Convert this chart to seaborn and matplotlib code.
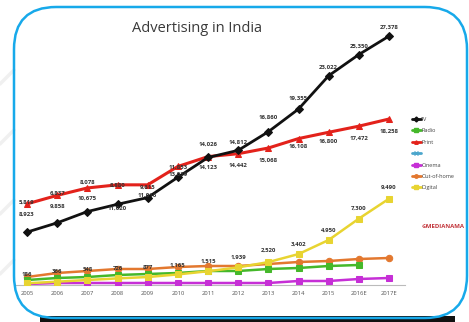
import numpy as np
import pandas as pd
import matplotlib
matplotlib.use("Agg")
import matplotlib.pyplot as plt
import seaborn as sns
from matplotlib.patches import FancyBboxPatch, Rectangle
from matplotlib.lines import Line2D

# ---------------- data ----------------
years = ["2005", "2006", "2007", "2008", "2009", "2010", "2011", "2012",
         "2013", "2014", "2015", "2016E", "2017E"]
tv = [5819, 6837, 8078, 8880, 9615, 11853, 14026, 14812, 16860, 19355, 23022, 25350, 27378]
print_ = [8923, 9858, 10675, 11020, 11016, 13039, 14123, 14442, 15068, 16108, 16800, 17472, 18258]
radio = [550, 770, 880, 1100, 1210, 1320, 1540, 1540, 1760, 1870, 2090, 2200, np.nan]
cinema = [110, 220, 220, 220, 220, 220, 220, 220, 220, 440, 440, 660, 770]
ooh = [880, 1320, 1540, 1760, 1760, 1980, 2090, 2090, 2310, 2530, 2640, 2860, 2970]
digital = [186, 366, 548, 726, 877, 1165, 1515, 1939, 2520, 3402, 4950, 7300, 9490]
tv_labels = ["5,819", "6,837", "8,078", "8,880", "9,615", "11,853", "14,026", "14,812",
             "16,860", "19,355", "23,022", "25,350", "27,378"]
print_labels = ["8,923", "9,858", "10,675", "11,020", "11,016", "13,039", "14,123", "14,442",
                "15,068", "16,108", "16,800", "17,472", "18,258"]
digital_labels = ["186", "366", "548", "726", "877", "1,165", "1,515", "1,939",
                  "2,520", "3,402", "4,950", "7,300", "9,490"]
legend_names = ["TV", "Radio", "Print", "", "Cinema", "Out-of-home", "Digital"]

# label offsets (pixels) – styling only
tv_dy = [30, 30, 29, 19, 10, 10, 13, 8, 14, 11, 8, 8, 9]
pr_dy = [-10, -11, -10, -24, -10, -8, -11, -12, -12, -8, -9, -12, -12]
dg_dy = [9, 10, 11, 10, 10, 9, 10, 10, 12, 10, 10, 10, 11]

W, H = 469, 322
fig = plt.figure(figsize=(W / 100, H / 100), dpi=100)
fig.patch.set_facecolor("white")
sns.set_style("white")
plt.rcParams['font.family'] = ['Open Sans', 'DejaVu Sans']

# faint stripes at left (background decoration)
for y0 in [70, 130, 200, 260]:
    fig.add_artist(Line2D([0 / W, 14 / W], [1 - (y0 + 14) / H, 1 - y0 / H],
                          color="#e6e6e6", lw=2.5, alpha=0.6))

# black band at bottom
fig.add_artist(Rectangle((40 / W, 0), 415 / W, 6 / H, transform=fig.transFigure,
                         facecolor="#111111", edgecolor="none", zorder=0))

ax = fig.add_axes([15 / W, 37 / H, 390 / W, 265 / H])
ax.set_facecolor("none")
x = np.arange(len(years))

series = [
    ("TV", tv, "#111111", "D", 3.6, 2.0),
    ("Radio", radio, "#45b82a", "s", 4.2, 1.8),
    ("Print", print_, "#e3221b", "^", 4.6, 2.2),
    ("Cinema", cinema, "#c62fd6", "s", 5.0, 1.8),
    ("Out-of-home", ooh, "#e3782f", "o", 4.6, 1.8),
    ("Digital", digital, "#e8d431", "s", 5.0, 1.8),
]
order_z = {"TV": 6, "Print": 5, "Digital": 4, "Out-of-home": 2, "Radio": 3, "Cinema": 3}
for name, vals, col, mk, ms, lw in series:
    df = pd.DataFrame({"x": x, "y": vals}).dropna()
    sns.lineplot(data=df, x="x", y="y", ax=ax, color=col, marker=mk, markersize=ms,
                 markeredgecolor=col, linewidth=lw, zorder=order_z[name])

lab_kw = dict(textcoords="offset pixels", ha="center", va="center",
              fontsize=4.3, color="#333333", fontweight="bold", zorder=10)
for i in range(len(years)):
    ax.annotate(tv_labels[i], (x[i], tv[i]), xytext=(0, tv_dy[i]), **lab_kw)
    ax.annotate(print_labels[i], (x[i], print_[i]), xytext=(0, pr_dy[i]), **lab_kw)
    ax.annotate(digital_labels[i], (x[i], digital[i]), xytext=(0, dg_dy[i]), **lab_kw)

ax.set_xlim(-0.398, 12.53)
ax.set_ylim(0, 29150)
ax.set_xticks(x)
ax.set_xticklabels(years)
ax.tick_params(axis="x", length=0, pad=4, labelsize=4.2, labelcolor="#555555")
ax.set_yticks([])
ax.set_xlabel("")
ax.set_ylabel("")
for s in ["top", "right", "left"]:
    ax.spines[s].set_visible(False)
ax.spines["bottom"].set_color("#bbbbbb")
ax.spines["bottom"].set_linewidth(0.8)

fig.text(197 / W, 1 - 28 / H, "Advertising in India", ha="center", va="center",
         fontsize=10.5, color="#3a3a3a")

handles = [
    Line2D([], [], color="#111111", marker="D", ms=2.5, lw=2),
    Line2D([], [], color="#45b82a", marker="s", ms=2.5, lw=2),
    Line2D([], [], color="#e3221b", marker="^", ms=2.5, lw=2),
    Line2D([], [], color="#4ba6cc", marker="x", ms=2.5, lw=2),
    Line2D([], [], color="#c62fd6", marker="s", ms=2.5, lw=2),
    Line2D([], [], color="#e3782f", marker="o", ms=2.5, lw=2),
    Line2D([], [], color="#e8d431", marker="s", ms=2.5, lw=2),
]
leg = fig.legend(handles, legend_names, loc="upper left",
                 bbox_to_anchor=(412 / W, 1 - 117 / H), frameon=False,
                 fontsize=4, handlelength=1.6, handletextpad=0.1, labelspacing=1.15,
                 borderaxespad=0, borderpad=0)
for t in leg.get_texts():
    t.set_color("#444444")

fig.text(422 / W, 1 - 226 / H, "©MEDIANAMA", ha="left", va="center",
         fontsize=4.3, color="#c2343a", fontweight="bold")

# blue rounded frame on top
frame = FancyBboxPatch((14 / W, 4 / H), 453 / W, 311 / H,
                       boxstyle="round,pad=0,rounding_size=0.09",
                       transform=fig.transFigure, facecolor="none",
                       edgecolor="#17a9ea", linewidth=1.8, zorder=20,
                       mutation_aspect=W / H)
fig.add_artist(frame)

fig.savefig("out.png", dpi=100)
